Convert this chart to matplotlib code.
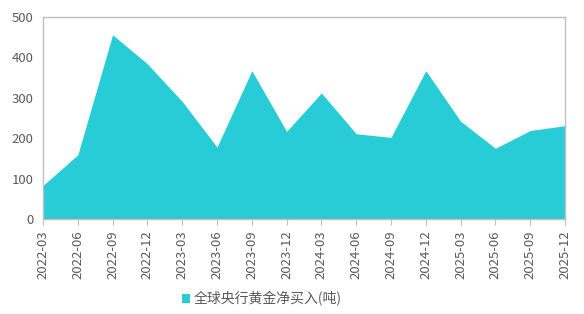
import matplotlib
matplotlib.use('Agg')
import matplotlib.pyplot as plt
import numpy as np

plt.rcParams['font.family'] = ['Noto Sans CJK SC', 'DejaVu Sans']

# quarterly central bank net gold purchases (tonnes)
quarters = ['2022-03', '2022-06', '2022-09', '2022-12', '2023-03', '2023-06',
            '2023-09', '2023-12', '2024-03', '2024-06', '2024-09', '2024-12',
            '2025-03', '2025-06', '2025-09', '2025-12']
net_buy = [83, 159, 456, 384, 291, 178, 367, 217, 312, 211, 202, 367,
           242, 175, 219, 231]
series_name = '全球央行黄金净买入(吨)'

fill_color = '#27CCD6'
grid_color = '#BFBFBF'
text_color = '#595959'

fig = plt.figure(figsize=(5.84, 3.14), dpi=100)
ax = fig.add_axes([43/584, 1 - 219/314, (565-43)/584, (219-17)/314])

x = np.arange(len(quarters))
ax.fill_between(x, 0, net_buy, color=fill_color, linewidth=0, label=series_name)

ax.set_xlim(0, len(quarters) - 1)
ax.set_ylim(0, 500)
ax.set_yticks(range(0, 501, 100))
ax.set_xticks(x)
ax.set_xticklabels(quarters, rotation=90)

for s in ax.spines.values():
    s.set_color(grid_color)
    s.set_linewidth(1)

ax.tick_params(axis='y', length=0, pad=7, labelsize=9.5, labelcolor=text_color)
ax.tick_params(axis='x', length=4, color=grid_color, pad=4, labelsize=9.5,
               labelcolor=text_color)

leg = fig.legend(loc='center', bbox_to_anchor=(262/584, 1 - 299/314), ncol=1,
                 frameon=False, handlelength=0.6, handleheight=0.6,
                 handletextpad=0.25, fontsize=10)
for t in leg.get_texts():
    t.set_color(text_color)

plt.savefig('out.png', dpi=100)
